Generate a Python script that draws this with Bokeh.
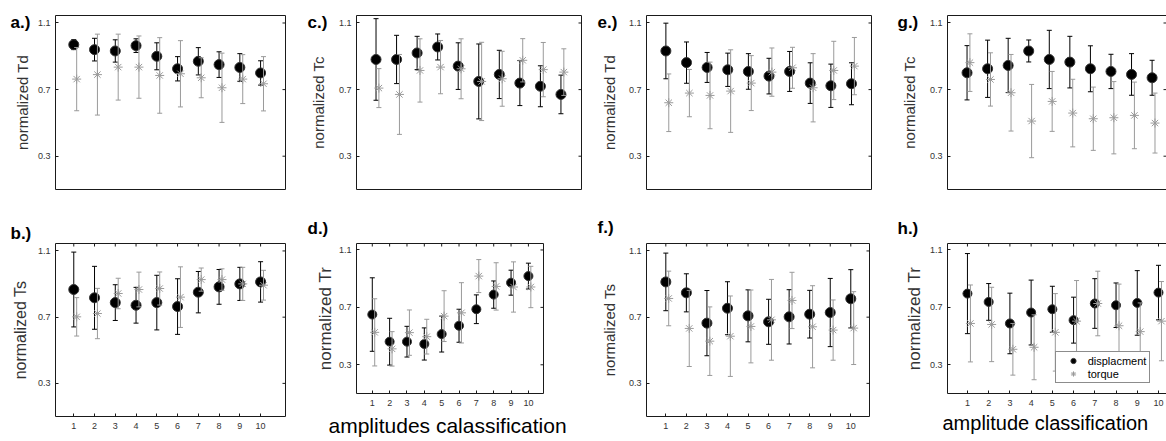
from bokeh.plotting import figure
from bokeh.models import (Range1d, FixedTicker, Label, Legend, LegendItem,
                          ColumnDataSource, GridBox, Column)
from bokeh.embed import file_html
from bokeh.resources import INLINE

FONT = "Liberation Sans"

classes = [1, 2, 3, 4, 5, 6, 7, 8, 9, 10]
y_tick_values = [0.3, 0.7, 1.1]
series_names = ["displacment", "torque"]
panel_letters = ["a.)", "b.)", "c.)", "d.)", "e.)", "f.)", "g.)", "h.)"]
y_titles = ["normalized Td", "normalized Ts", "normalized Tc", "normalized Tr",
            "normalized Td", "normalized Ts", "normalized Tc", "normalized Tr"]
x_titles = ["amplitudes calassification", "amplitude classification"]

# a.) normalized Td
a_disp_mean = [0.970, 0.940, 0.932, 0.964, 0.900, 0.825, 0.870, 0.850, 0.833, 0.800]
a_disp_sd = [0.030, 0.068, 0.067, 0.041, 0.081, 0.073, 0.082, 0.077, 0.083, 0.073]
a_torq_mean = [0.763, 0.790, 0.835, 0.835, 0.785, 0.795, 0.771, 0.711, 0.763, 0.735]
a_torq_sd = [0.190, 0.243, 0.198, 0.187, 0.227, 0.199, 0.120, 0.208, 0.147, 0.163]

# b.) normalized Ts
b_disp_mean = [0.867, 0.817, 0.788, 0.772, 0.788, 0.764, 0.851, 0.883, 0.901, 0.913]
b_disp_sd = [0.226, 0.190, 0.108, 0.108, 0.165, 0.168, 0.125, 0.105, 0.100, 0.122]
b_torq_mean = [0.702, 0.722, 0.843, 0.867, 0.873, 0.821, 0.927, 0.927, 0.901, 0.893]
b_torq_sd = [0.116, 0.152, 0.092, 0.105, 0.100, 0.183, 0.070, 0.065, 0.100, 0.090]

# c.) normalized Tc
c_disp_mean = [0.881, 0.881, 0.920, 0.956, 0.841, 0.749, 0.791, 0.739, 0.720, 0.671]
c_disp_sd = [0.245, 0.145, 0.100, 0.078, 0.140, 0.225, 0.145, 0.135, 0.123, 0.116]
c_torq_mean = [0.709, 0.671, 0.815, 0.835, 0.825, 0.749, 0.765, 0.876, 0.820, 0.805]
c_torq_sd = [0.117, 0.240, 0.190, 0.160, 0.180, 0.235, 0.165, 0.130, 0.163, 0.140]

# d.) normalized Tr
d_disp_mean = [0.650, 0.461, 0.461, 0.445, 0.514, 0.572, 0.687, 0.789, 0.872, 0.918]
d_disp_sd = [0.256, 0.163, 0.107, 0.112, 0.125, 0.115, 0.100, 0.095, 0.087, 0.090]
d_torq_mean = [0.526, 0.411, 0.524, 0.496, 0.639, 0.662, 0.918, 0.846, 0.842, 0.842]
d_torq_sd = [0.234, 0.120, 0.158, 0.121, 0.177, 0.210, 0.115, 0.165, 0.175, 0.144]

# e.) normalized Td
e_disp_mean = [0.932, 0.862, 0.833, 0.819, 0.809, 0.781, 0.809, 0.739, 0.723, 0.735]
e_disp_sd = [0.167, 0.124, 0.090, 0.100, 0.107, 0.107, 0.120, 0.122, 0.130, 0.126]
e_torq_mean = [0.621, 0.679, 0.665, 0.691, 0.739, 0.805, 0.831, 0.711, 0.815, 0.841]
e_torq_sd = [0.173, 0.142, 0.200, 0.248, 0.165, 0.145, 0.123, 0.205, 0.175, 0.172]

# f.) normalized Ts
f_disp_mean = [0.913, 0.847, 0.664, 0.754, 0.708, 0.672, 0.702, 0.718, 0.728, 0.811]
f_disp_sd = [0.174, 0.115, 0.197, 0.160, 0.157, 0.136, 0.164, 0.144, 0.206, 0.176]
f_torq_mean = [0.813, 0.632, 0.555, 0.585, 0.644, 0.684, 0.801, 0.642, 0.622, 0.634]
f_torq_sd = [0.165, 0.230, 0.207, 0.243, 0.220, 0.244, 0.170, 0.248, 0.182, 0.220]

# g.) normalized Tc
g_disp_mean = [0.801, 0.825, 0.845, 0.932, 0.881, 0.865, 0.825, 0.809, 0.791, 0.771]
g_disp_sd = [0.163, 0.172, 0.163, 0.066, 0.175, 0.155, 0.138, 0.103, 0.125, 0.105]
g_torq_mean = [0.862, 0.761, 0.681, 0.511, 0.629, 0.559, 0.525, 0.531, 0.545, 0.499]
g_torq_sd = [0.173, 0.160, 0.230, 0.220, 0.180, 0.203, 0.190, 0.217, 0.200, 0.180]

# h.) normalized Tr
h_disp_mean = [0.796, 0.738, 0.588, 0.664, 0.687, 0.611, 0.727, 0.715, 0.731, 0.803]
h_disp_sd = [0.279, 0.128, 0.211, 0.226, 0.160, 0.160, 0.173, 0.155, 0.225, 0.190]
h_torq_mean = [0.588, 0.581, 0.408, 0.422, 0.526, 0.604, 0.727, 0.572, 0.531, 0.604]
h_torq_sd = [0.268, 0.259, 0.180, 0.226, 0.270, 0.283, 0.225, 0.290, 0.200, 0.276]

DISP_COLOR = "#000000"
TORQ_COLOR = "#9a9a9a"
TORQ_SHIFT = 0.14
EDGE = "#1a1a1a"
TEXT = "#333333"
Y_RANGE = (0.1, 1.145)
TICK_LEN = 3
PAGE_W, PAGE_H = 1166, 441


def make_panel(ylabel, disp_mean, disp_sd, torq_mean, torq_sd,
               fw, fh, bl, br, bt, bb, xr, show_x, ylab_size, ylab_standoff,
               marker_size=10):
    p = figure(frame_width=fw, frame_height=fh,
               min_border_left=bl, min_border_right=br,
               min_border_top=bt, min_border_bottom=bb,
               x_range=Range1d(*xr), y_range=Range1d(*Y_RANGE),
               output_backend="svg", toolbar_location=None,
               background_fill_color="white", border_fill_color="white")
    p.xgrid.visible = False
    p.ygrid.visible = False
    p.outline_line_color = EDGE
    p.outline_line_width = 1

    yax = p.yaxis[0]
    yax.ticker = FixedTicker(ticks=y_tick_values)
    yax.axis_line_color = None
    yax.major_tick_in = TICK_LEN
    yax.major_tick_out = 0
    yax.major_tick_line_color = EDGE
    yax.minor_tick_line_color = None
    yax.major_label_text_font = FONT
    yax.major_label_text_font_size = "9px"
    yax.major_label_text_color = TEXT
    yax.major_label_standoff = 5
    yax.axis_label = ylabel
    yax.axis_label_text_font = FONT
    yax.axis_label_text_font_style = "normal"
    yax.axis_label_text_font_size = ylab_size
    yax.axis_label_text_color = TEXT
    yax.axis_label_standoff = ylab_standoff

    # mirrored tick marks on the right edge (and on the top edge when x ticks are shown)
    dx = TICK_LEN * (xr[1] - xr[0]) / fw
    dy = TICK_LEN * (Y_RANGE[1] - Y_RANGE[0]) / fh
    p.segment(x0=[xr[1]] * len(y_tick_values), x1=[xr[1] - dx] * len(y_tick_values),
              y0=y_tick_values, y1=y_tick_values, line_color=EDGE, line_width=1)

    xax = p.xaxis[0]
    if show_x:
        xax.ticker = FixedTicker(ticks=classes)
        xax.axis_line_color = None
        xax.major_tick_in = TICK_LEN
        xax.major_tick_out = 0
        xax.major_tick_line_color = EDGE
        xax.minor_tick_line_color = None
        xax.major_label_text_font = FONT
        xax.major_label_text_font_size = "9px"
        xax.major_label_text_color = TEXT
        xax.major_label_standoff = 6
        p.segment(x0=classes, x1=classes, y0=[Y_RANGE[1]] * len(classes),
                  y1=[Y_RANGE[1] - dy] * len(classes), line_color=EDGE, line_width=1)
    else:
        xax.visible = False

    renderers = []
    for mean, sd, shift, color, marker, size, lc in [
        (disp_mean, disp_sd, 0.0, DISP_COLOR, "circle", marker_size, "#333333"),
        (torq_mean, torq_sd, TORQ_SHIFT, TORQ_COLOR, "asterisk", 9, TORQ_COLOR),
    ]:
        xs = [c + shift for c in classes]
        lo = [m - s for m, s in zip(mean, sd)]
        hi = [m + s for m, s in zip(mean, sd)]
        src = ColumnDataSource(dict(x=xs, y=mean, lo=lo, hi=hi))
        p.segment(x0="x", y0="lo", x1="x", y1="hi", source=src, line_color=color, line_width=1)
        p.scatter(x="x", y="hi", source=src, marker="dash", size=5, line_color=color, line_width=1)
        p.scatter(x="x", y="lo", source=src, marker="dash", size=5, line_color=color, line_width=1)
        r = p.scatter(x="x", y="y", source=src, marker=marker, size=size,
                      fill_color=color, line_color=lc, line_width=1)
        renderers.append(r)
    return p, renderers


pa, _ = make_panel(y_titles[0], a_disp_mean, a_disp_sd, a_torq_mean, a_torq_sd,
                   230, 174, 55, 15, 15, 11, (0.12, 11.2), False, "15px", 4)
pb, _ = make_panel(y_titles[1], b_disp_mean, b_disp_sd, b_torq_mean, b_torq_sd,
                   230, 173, 55, 15, 24, 44, (0.12, 11.2), True, "16px", 6)
pc, _ = make_panel(y_titles[2], c_disp_mean, c_disp_sd, c_torq_mean, c_torq_sd,
                   225, 174, 56, 9, 15, 11, (0.05, 11.0), False, "15px", 9)
pd, _ = make_panel(y_titles[3], d_disp_mean, d_disp_sd, d_torq_mean, d_torq_sd,
                   187, 150, 43, 60, 43, 48, (0.09, 10.87), True, "17px", 1, 9)
pe, _ = make_panel(y_titles[4], e_disp_mean, e_disp_sd, e_torq_mean, e_torq_sd,
                   225, 174, 55, 10, 15, 11, (0.06, 10.97), False, "15px", 8)
pf, _ = make_panel(y_titles[5], f_disp_mean, f_disp_sd, f_torq_mean, f_torq_sd,
                   223, 173, 55, 12, 24, 44, (0.06, 10.91), True, "15px", 8)
pg, _ = make_panel(y_titles[6], g_disp_mean, g_disp_sd, g_torq_mean, g_torq_sd,
                   219, 174, 66, 1, 15, 11, (0.05, 10.7), False, "15px", 9)
ph, rh = make_panel(y_titles[7], h_disp_mean, h_disp_sd, h_torq_mean, h_torq_sd,
                    232, 150, 53, 1, 43, 48, (0.06, 10.99), True, "17px", 3, 9)

legend = Legend(items=[LegendItem(label=series_names[0], renderers=[rh[0]]),
                       LegendItem(label=series_names[1], renderers=[rh[1]])],
                location=(125, 10), orientation="vertical",
                border_line_color=EDGE, border_line_width=1, background_fill_color="white",
                background_fill_alpha=1.0, label_text_font=FONT, label_text_font_size="11px",
                label_text_color="black", padding=2, spacing=0, margin=0,
                glyph_width=30, glyph_height=13, label_height=13, label_width=59,
                label_standoff=0)
ph.add_layout(legend, "center")

# transparent overlay carrying the panel letters and the x-axis titles,
# whose coordinates are page pixels (y downwards)
ov = figure(frame_width=PAGE_W, frame_height=PAGE_H,
            min_border_left=0, min_border_right=0, min_border_top=0, min_border_bottom=0,
            x_range=Range1d(0, PAGE_W), y_range=Range1d(PAGE_H, 0),
            x_axis_type=None, y_axis_type=None, output_backend="svg",
            toolbar_location=None, background_fill_alpha=0, border_fill_alpha=0)
ov.outline_line_color = None
ov.grid.visible = False

letter_anchor = [(10, 22), (10, 233), (307, 22), (307, 228),
                 (597, 22), (597, 227), (897, 22), (897, 228)]
for txt, (lx, ly) in zip(panel_letters, letter_anchor):
    ov.add_layout(Label(x=lx, y=ly, text=txt, text_font=FONT, text_font_style="bold",
                        text_font_size="17px", text_color="black",
                        text_baseline="alphabetic", text_align="left"))

title_anchor = [(328, 425, "21px"), (942, 422, "20px")]
for txt, (tx, ty, fs) in zip(x_titles, title_anchor):
    ov.add_layout(Label(x=tx, y=ty, text=txt, text_font=FONT, text_font_size=fs,
                        text_color="black", text_baseline="alphabetic", text_align="left"))

layout = GridBox(children=[(pa, 0, 0), (pb, 1, 0), (pc, 0, 1), (pd, 1, 1),
                           (pe, 0, 2), (pf, 1, 2), (pg, 0, 3), (ph, 1, 3),
                           (Column(children=[ov]), 0, 0, 2, 4)], spacing=0)

html = file_html(layout, INLINE, "normalized parameters")
open("out.html", "w").write(html)
